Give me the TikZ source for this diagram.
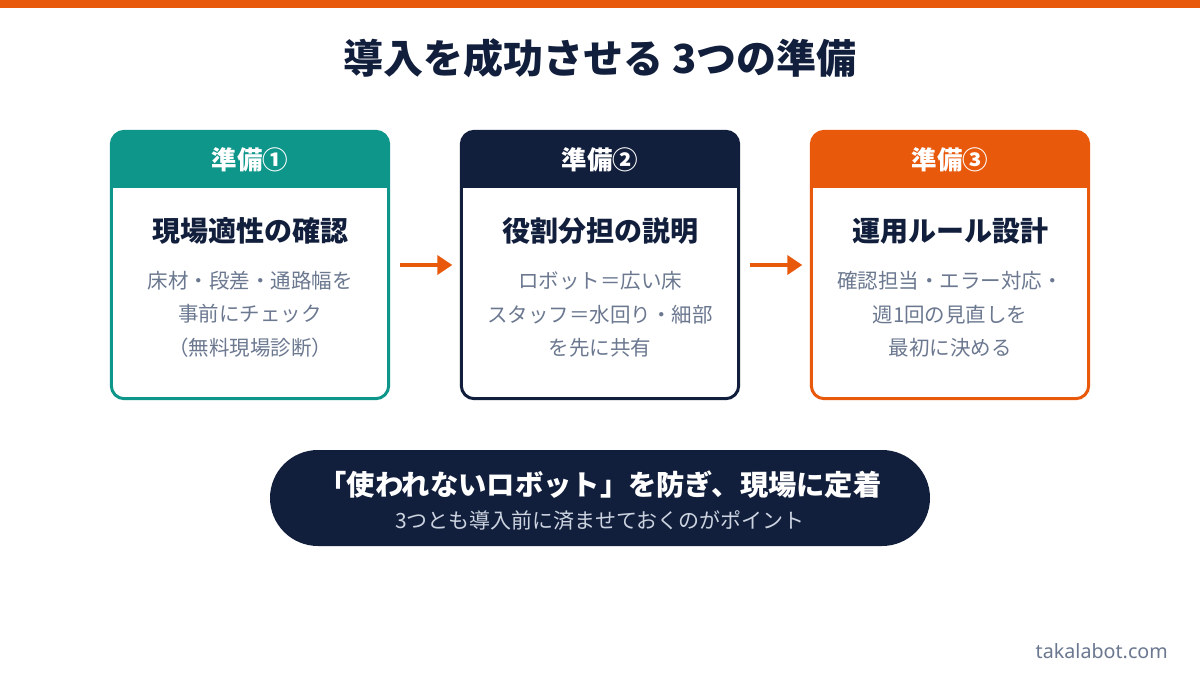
\documentclass[tikz,border=0pt]{standalone}
\usepackage{fontspec}
\setmainfont{Noto Sans CJK JP}
\newfontfamily\latinfont{Noto Sans}
\usetikzlibrary{arrows.meta}
\definecolor{navyC}{HTML}{121F3C}
\definecolor{tealC}{HTML}{0E968A}
\definecolor{orangeC}{HTML}{E8590C}
\definecolor{bodyC}{HTML}{6B7890}
\definecolor{subC}{HTML}{CBD3E0}
\definecolor{wmC}{HTML}{6B7890}
\tikzset{
  cardbox/.style={minimum width=277pt, minimum height=267pt, inner sep=0pt},
  headtxt/.style={text=white, font=\bfseries\fontsize{25.5}{28}\selectfont},
  cardtitle/.style={text=navyC, font=\bfseries\fontsize{28}{32}\selectfont},
  cardbody/.style={text=bodyC, align=center, font=\fontsize{20.5}{33.5}\selectfont},
  flow/.style={draw=orangeC, line width=4pt, -{Triangle[length=15pt,width=19pt]}},
}
\newcommand{\mycard}[6]{%
  \node[cardbox] (#1) at (#2,265) {};
  \fill[#3] ([yshift=-56.5pt]#1.north west) [rounded corners=13pt] -- (#1.north west) -- (#1.north east) [sharp corners] -- ([yshift=-56.5pt]#1.north east) -- cycle;
  \draw[#3, line width=3pt, rounded corners=13pt] (#1.north west) rectangle (#1.south east);
  \node[headtxt] (#1h) at ([yshift=-28.5pt]#1.north) {#4};
  \node[cardtitle] (#1t) at ([yshift=-99.5pt]#1.north) {#5};
  \node[cardbody] (#1b) at ([yshift=-183pt]#1.north) {#6};
}
\begin{document}
\begin{tikzpicture}[x=1pt,y=-1pt]
\useasboundingbox (0,0) rectangle (1200,675);
\fill[white] (0,0) rectangle (1200,675);
\fill[orangeC] (0,0) rectangle (1200,8);
\node[text=navyC, font=\bfseries\fontsize{40}{44}\selectfont] (title) at (600,58) {導入を成功させる 3つの準備};

\mycard{c1}{250}{tealC}{準備①}{現場適性の確認}{床材・段差・通路幅を\\事前にチェック\\（無料現場診断）}
\mycard{c2}{600}{navyC}{準備②}{役割分担の説明}{ロボット＝広い床\\スタッフ＝水回り・細部\\を先に共有}
\mycard{c3}{950}{orangeC}{準備③}{運用ルール設計}{確認担当・エラー対応・\\週1回の見直しを\\最初に決める}

\draw[flow] ([xshift=11pt]c1.east) -- ([xshift=-9pt]c2.west);
\draw[flow] ([xshift=11pt]c2.east) -- ([xshift=-9pt]c3.west);

\node[fill=navyC, minimum width=660pt, minimum height=96pt, rounded corners=48pt, inner sep=0pt] (pill) at (600,498) {};
\node[text=white, font=\bfseries\fontsize{28.3}{31}\selectfont] (pill1) at (600,485) {「使われないロボット」を防ぎ、現場に定着};
\node[text=subC, font=\fontsize{21}{24}\selectfont] (pill2) at (600,521) {3つとも導入前に済ませておくのがポイント};

\node[anchor=east, text=wmC, font=\latinfont\fontsize{19.7}{22}\selectfont, inner sep=0pt] (wm) at (1168,651) {takalabot.com};
\end{tikzpicture}
\end{document}
